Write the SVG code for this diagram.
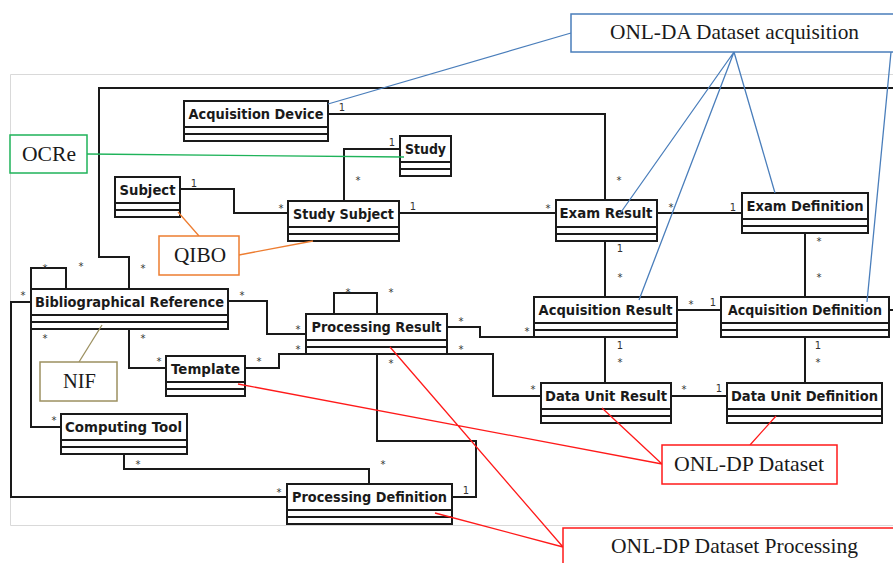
<svg xmlns="http://www.w3.org/2000/svg" width="893" height="563" viewBox="0 0 893 563">
<style>
.frame{fill:none;stroke:#d9d9d9;stroke-width:1}
.cls rect{fill:#fff;stroke:#1a1a1a;stroke-width:2}
.cls line{stroke:#1a1a1a;stroke-width:2}
.cls text{font-family:"DejaVu Sans",Verdana,sans-serif;font-weight:bold;font-size:14px;fill:#1a1a1a;text-anchor:middle}
.conn path{fill:none;stroke:#1a1a1a;stroke-width:2}
.m{font-family:"DejaVu Sans",sans-serif;font-size:10px;fill:#333;text-anchor:middle}
.ann rect{fill:#fff;stroke-width:1.5}
.ann text{font-family:"Liberation Serif","Times New Roman",serif;font-size:21px;fill:#1a1a1a;text-anchor:middle}
.lk path{fill:none;stroke-width:1.3}
.blue{stroke:#4a7ebb}.green{stroke:#1fb35a}.orange{stroke:#ed7d31}.olive{stroke:#9c9060}.red{stroke:#ff1a1a}
</style>
<rect width="893" height="563" fill="#fff"/>
<path class="frame" d="M894,74.5 H10.5 V525.5 H894"/>

<g id="connectors" class="conn">
<path d="M328,114 H605 V200"/>
<path d="M400,149 H344 V201"/>
<path d="M180,189 H234 V213 H288"/>
<path d="M399,213 H556"/>
<path d="M657,213 H742"/>
<path d="M605,241 V297"/>
<path d="M805,233 V297"/>
<path d="M677,310 H721"/>
<path d="M605,337 V383"/>
<path d="M805,337 V383"/>
<path d="M671,396 H727"/>
<path d="M447,327 H480 V337 H534"/>
<path d="M447,354 H493 V396 H541"/>
<path d="M245,368 H279 V354 H306"/>
<path d="M228,301 H267 V334 H306"/>
<path d="M334,314 V293 H377 V314"/>
<path d="M377,354 V441 H476 V497 H452"/>
<path d="M31,289 V268 H66 V289"/>
<path d="M31,302 H11 V497 H287"/>
<path d="M31,329 V427 H61"/>
<path d="M129,329 V368 H166"/>
<path d="M129,289 V257 H99 V88 H894"/>
<path d="M124,454 V469 H369 V484"/>
<path d="M889,310 H894"/>
</g>

<g id="multiplicities">
<text class="m" x="342" y="111">1</text>
<text class="m" x="619" y="184">*</text>
<text class="m" x="392" y="146">1</text>
<text class="m" x="358" y="184">*</text>
<text class="m" x="194" y="187">1</text>
<text class="m" x="281" y="212">*</text>
<text class="m" x="413" y="210">1</text>
<text class="m" x="548" y="212">*</text>
<text class="m" x="671" y="211">*</text>
<text class="m" x="733" y="211">1</text>
<text class="m" x="620" y="252">1</text>
<text class="m" x="620" y="281">*</text>
<text class="m" x="819" y="245">*</text>
<text class="m" x="819" y="281">*</text>
<text class="m" x="691" y="308">*</text>
<text class="m" x="713" y="306">1</text>
<text class="m" x="620" y="349">1</text>
<text class="m" x="620" y="366">*</text>
<text class="m" x="818" y="349">1</text>
<text class="m" x="818" y="366">*</text>
<text class="m" x="684" y="393">*</text>
<text class="m" x="719" y="392">1</text>
<text class="m" x="461" y="325">*</text>
<text class="m" x="527" y="335">*</text>
<text class="m" x="461" y="353">*</text>
<text class="m" x="533" y="393">*</text>
<text class="m" x="348" y="296">*</text>
<text class="m" x="391" y="296">*</text>
<text class="m" x="298" y="333">*</text>
<text class="m" x="298" y="353">*</text>
<text class="m" x="391" y="367">*</text>
<text class="m" x="466" y="494">1</text>
<text class="m" x="45" y="272">*</text>
<text class="m" x="81" y="270">*</text>
<text class="m" x="143" y="272">*</text>
<text class="m" x="23" y="299">*</text>
<text class="m" x="242" y="299">*</text>
<text class="m" x="45" y="342">*</text>
<text class="m" x="143" y="342">*</text>
<text class="m" x="159" y="365">*</text>
<text class="m" x="259" y="365">*</text>
<text class="m" x="54" y="424">*</text>
<text class="m" x="138" y="468">*</text>
<text class="m" x="383" y="468">*</text>
<text class="m" x="279" y="496">*</text>
</g>

<g id="acquisition-device" class="cls"><rect x="184" y="101" width="144" height="40"/><line x1="184" y1="127" x2="328" y2="127"/><line x1="184" y1="134" x2="328" y2="134"/><text x="256" y="119" textLength="135" lengthAdjust="spacingAndGlyphs">Acquisition Device</text></g>
<g id="study" class="cls"><rect x="400" y="136" width="51" height="40"/><line x1="400" y1="162" x2="451" y2="162"/><line x1="400" y1="169" x2="451" y2="169"/><text x="425.5" y="154" textLength="41" lengthAdjust="spacingAndGlyphs">Study</text></g>
<g id="subject" class="cls"><rect x="115" y="177" width="65" height="40"/><line x1="115" y1="203" x2="180" y2="203"/><line x1="115" y1="210" x2="180" y2="210"/><text x="147.5" y="195" textLength="56" lengthAdjust="spacingAndGlyphs">Subject</text></g>
<g id="study-subject" class="cls"><rect x="288" y="201" width="111" height="40"/><line x1="288" y1="227" x2="399" y2="227"/><line x1="288" y1="234" x2="399" y2="234"/><text x="343.5" y="219" textLength="101" lengthAdjust="spacingAndGlyphs">Study Subject</text></g>
<g id="exam-result" class="cls"><rect x="556" y="200" width="101" height="41"/><line x1="556" y1="227" x2="657" y2="227"/><line x1="556" y1="234" x2="657" y2="234"/><text x="606" y="218" textLength="93" lengthAdjust="spacingAndGlyphs">Exam Result</text></g>
<g id="exam-definition" class="cls"><rect x="742" y="193" width="126" height="40"/><line x1="742" y1="219" x2="868" y2="219"/><line x1="742" y1="226" x2="868" y2="226"/><text x="805" y="211" textLength="117" lengthAdjust="spacingAndGlyphs">Exam Definition</text></g>
<g id="acquisition-result" class="cls"><rect x="534" y="297" width="143" height="40"/><line x1="534" y1="323" x2="677" y2="323"/><line x1="534" y1="330" x2="677" y2="330"/><text x="605.5" y="315" textLength="134" lengthAdjust="spacingAndGlyphs">Acquisition Result</text></g>
<g id="acquisition-definition" class="cls"><rect x="721" y="297" width="168" height="40"/><line x1="721" y1="323" x2="889" y2="323"/><line x1="721" y1="330" x2="889" y2="330"/><text x="805" y="315" textLength="154" lengthAdjust="spacingAndGlyphs">Acquisition Definition</text></g>
<g id="data-unit-result" class="cls"><rect x="541" y="383" width="130" height="40"/><line x1="541" y1="409" x2="671" y2="409"/><line x1="541" y1="416" x2="671" y2="416"/><text x="606" y="401" textLength="122" lengthAdjust="spacingAndGlyphs">Data Unit Result</text></g>
<g id="data-unit-definition" class="cls"><rect x="727" y="383" width="155" height="40"/><line x1="727" y1="409" x2="882" y2="409"/><line x1="727" y1="416" x2="882" y2="416"/><text x="804.5" y="401" textLength="147" lengthAdjust="spacingAndGlyphs">Data Unit Definition</text></g>
<g id="processing-result" class="cls"><rect x="306" y="314" width="141" height="40"/><line x1="306" y1="340" x2="447" y2="340"/><line x1="306" y1="347" x2="447" y2="347"/><text x="376.5" y="332" textLength="130" lengthAdjust="spacingAndGlyphs">Processing Result</text></g>
<g id="bibliographical-reference" class="cls"><rect x="31" y="289" width="197" height="40"/><line x1="31" y1="315" x2="228" y2="315"/><line x1="31" y1="322" x2="228" y2="322"/><text x="129.5" y="307" textLength="189" lengthAdjust="spacingAndGlyphs">Bibliographical Reference</text></g>
<g id="template" class="cls"><rect x="166" y="356" width="79" height="40"/><line x1="166" y1="382" x2="245" y2="382"/><line x1="166" y1="389" x2="245" y2="389"/><text x="205.5" y="374" textLength="69" lengthAdjust="spacingAndGlyphs">Template</text></g>
<g id="computing-tool" class="cls"><rect x="61" y="414" width="126" height="40"/><line x1="61" y1="440" x2="187" y2="440"/><line x1="61" y1="447" x2="187" y2="447"/><text x="123.5" y="432" textLength="117" lengthAdjust="spacingAndGlyphs">Computing Tool</text></g>
<g id="processing-definition" class="cls"><rect x="287" y="484" width="165" height="40"/><line x1="287" y1="510" x2="452" y2="510"/><line x1="287" y1="517" x2="452" y2="517"/><text x="369.5" y="502" textLength="155" lengthAdjust="spacingAndGlyphs">Processing Definition</text></g>

<g id="annotation-links" class="lk">
<path class="blue" d="M328,104 L571,33"/>
<path class="blue" d="M734,52 L619,215 M734,52 L639,300 M734,52 L775,193 M891,52 L867,302"/>
<path class="green" d="M87,154 L404,157"/>
<path class="orange" d="M178,212 L199,236 M239,255 L313,241"/>
<path class="olive" d="M79,362 L102,325"/>
<path class="red" d="M662,464 L238,384 M662,464 L602,408 M750,445 L776,416 M563,547 L390,347 M563,547 L435,513"/>
</g>

<g id="onl-da" class="ann"><rect class="blue" x="571" y="14" width="330" height="38"/><text x="734.5" y="39" textLength="249" lengthAdjust="spacingAndGlyphs">ONL-DA Dataset acquisition</text></g>
<g id="ocre" class="ann"><rect class="green" x="10" y="135" width="77" height="38"/><text x="49" y="161" textLength="54" lengthAdjust="spacingAndGlyphs">OCRe</text></g>
<g id="qibo" class="ann"><rect class="orange" x="159" y="236" width="80" height="39"/><text x="200" y="262" textLength="52" lengthAdjust="spacingAndGlyphs">QIBO</text></g>
<g id="nif" class="ann"><rect class="olive" x="40" y="362" width="77" height="39"/><text x="79.5" y="388" textLength="33" lengthAdjust="spacingAndGlyphs">NIF</text></g>
<g id="onl-dp-dataset" class="ann"><rect class="red" x="662" y="445" width="175" height="39"/><text x="749" y="471" textLength="150" lengthAdjust="spacingAndGlyphs">ONL-DP Dataset</text></g>
<g id="onl-dp-processing" class="ann"><rect class="red" x="563" y="528" width="340" height="50"/><text x="734.5" y="553" textLength="247" lengthAdjust="spacingAndGlyphs">ONL-DP Dataset Processing</text></g>
</svg>
